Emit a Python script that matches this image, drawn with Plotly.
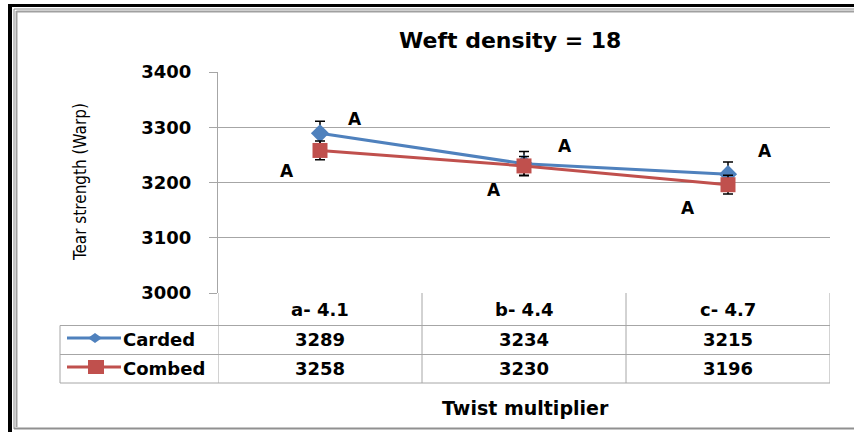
import plotly.graph_objects as go

# ---------------- data ----------------
categories = ["a- 4.1", "b- 4.4", "c- 4.7"]
series_names = ["Carded", "Combed"]
carded = [3289, 3234, 3215]
combed = [3258, 3230, 3196]
carded_err = [22, 22, 22]
combed_err = [17, 17, 17]
carded_letters = ["A", "A", "A"]
combed_letters = ["A", "A", "A"]
y_ticks = [3000, 3100, 3200, 3300, 3400]
title_text = "Weft density = 18"
y_title = "Tear strength (Warp)"
x_title = "Twist multiplier"

# ---------------- style / layout ----------------
W, H = 854, 432
L, R, T, B = 218, 830, 72, 293
BLUE = "#4F81BD"
RED = "#C0504D"
GRID = "#a6a6a6"
FONT = "DejaVu Sans"


def px(x):
    return (x - L) / (R - L)


def py(y):
    return (B - y) / (B - T)


idx = list(range(len(categories)))

fig = go.Figure()
fig.add_trace(go.Scatter(
    x=idx, y=carded, mode="lines+markers", name=series_names[0],
    line=dict(color=BLUE, width=3),
    marker=dict(symbol="diamond", size=14, color=BLUE),
    error_y=dict(type="data", array=carded_err, color="black", thickness=1.5, width=5),
    showlegend=False, cliponaxis=False,
))
fig.add_trace(go.Scatter(
    x=idx, y=combed, mode="lines+markers", name=series_names[1],
    line=dict(color=RED, width=3),
    marker=dict(symbol="square", size=15, color=RED),
    error_y=dict(type="data", array=combed_err, color="black", thickness=1.5, width=5),
    showlegend=False, cliponaxis=False,
))

shapes = []
annotations = []

# table lines
row_lines = [325.5, 354.5, 383]
for yy in row_lines:
    shapes.append(dict(type="line", xref="paper", yref="paper",
                       x0=px(60), x1=px(830), y0=py(yy), y1=py(yy),
                       line=dict(color=GRID, width=1)))
for xb in [-0.5, 0.5, 1.5, 2.5]:
    shapes.append(dict(type="line", xref="x", yref="paper",
                       x0=xb, x1=xb, y0=py(293), y1=py(383),
                       line=dict(color=GRID, width=1)))
shapes.append(dict(type="line", xref="paper", yref="paper",
                   x0=px(60), x1=px(60), y0=py(325.5), y1=py(383),
                   line=dict(color=GRID, width=1)))

CELL_FONT = dict(family=FONT, size=18, color="black", weight="bold")

# table text
header_y, row_y = 309, [339, 368]
for i, c in enumerate(categories):
    annotations.append(dict(x=i, y=py(header_y), xref="x", yref="paper", text=c,
                            xanchor="center", yanchor="middle",
                            showarrow=False, font=CELL_FONT))
for r, vals in enumerate([carded, combed]):
    for i, v in enumerate(vals):
        annotations.append(dict(x=i, y=py(row_y[r]), xref="x", yref="paper", text=str(v),
                                xanchor="center", yanchor="middle",
                                showarrow=False, font=CELL_FONT))
    annotations.append(dict(x=px(121), y=py(row_y[r]), xref="paper", yref="paper",
                            text=series_names[r], xanchor="left", yanchor="middle",
                            showarrow=False, font=CELL_FONT))

# legend keys in the table
key_y = [338, 367]
for r, col in enumerate([BLUE, RED]):
    shapes.append(dict(type="line", xref="paper", yref="paper",
                       x0=px(67), x1=px(121), y0=py(key_y[r]), y1=py(key_y[r]),
                       line=dict(color=col, width=3)))
shapes.append(dict(type="path", xref="paper", yref="paper", xsizemode="pixel", ysizemode="pixel",
                   xanchor=px(95), yanchor=py(key_y[0]),
                   path="M -7,0 L 0,5 L 7,0 L 0,-5 Z", fillcolor=BLUE, line=dict(width=0)))
shapes.append(dict(type="path", xref="paper", yref="paper", xsizemode="pixel", ysizemode="pixel",
                   xanchor=px(96), yanchor=py(key_y[1]),
                   path="M -8,-7 L 8,-7 L 8,7 L -8,7 Z", fillcolor=RED, line=dict(width=0)))

# significance letters
carded_off = [(35, 14), (41, 18), (37, 23)]
combed_off = [(-33, -21), (-30, -24), (-40, -23)]
LET_FONT = dict(family=FONT, size=17, color="black", weight="bold")
for i in idx:
    annotations.append(dict(x=i, y=carded[i], xref="x", yref="y", text=carded_letters[i],
                            xshift=carded_off[i][0], yshift=carded_off[i][1], showarrow=False,
                            xanchor="center", yanchor="middle", font=LET_FONT))
    annotations.append(dict(x=i, y=combed[i], xref="x", yref="y", text=combed_letters[i],
                            xshift=combed_off[i][0], yshift=combed_off[i][1], showarrow=False,
                            xanchor="center", yanchor="middle", font=LET_FONT))

# titles
annotations.append(dict(x=px(510), y=py(40), xref="paper", yref="paper", text=title_text,
                        xanchor="center", yanchor="middle", showarrow=False,
                        font=dict(family=FONT, size=22, color="black", weight="bold")))
annotations.append(dict(x=px(525), y=py(408), xref="paper", yref="paper", text=x_title,
                        xanchor="center", yanchor="middle", showarrow=False,
                        font=dict(family=FONT, size=19, color="black", weight="bold")))
annotations.append(dict(x=px(80), y=py(182), xref="paper", yref="paper", text=y_title,
                        textangle=-90, xanchor="center", yanchor="middle", showarrow=False,
                        font=dict(family="DejaVu Sans Condensed", size=17, color="black")))

# outer frame
frame = [
    (10, 4, 10, 440, "black", 4),
    (8, 5.5, 870, 5.5, "black", 3),
    (14, 9, 14, 429, "#888888", 1),
    (16.5, 11, 16.5, 427, "#a0a0a0", 2),
    (14, 9, 870, 9, "#888888", 1),
    (16.5, 11.5, 870, 11.5, "#a0a0a0", 2),
    (14, 428.5, 870, 428.5, "#909090", 2),
]
for x0, y0, x1, y1, c, w in frame:
    shapes.append(dict(type="line", xref="paper", yref="paper",
                       x0=px(x0), x1=px(x1), y0=py(y0), y1=py(y1),
                       line=dict(color=c, width=w)))

fig.update_layout(
    width=W, height=H,
    margin=dict(l=L, r=W - R, t=T, b=H - B),
    paper_bgcolor="white", plot_bgcolor="white",
    showlegend=False,
    xaxis=dict(range=[-0.5, 2.5], visible=False, fixedrange=True),
    yaxis=dict(range=[3000, 3400], tickvals=y_ticks, showgrid=True, gridcolor=GRID, gridwidth=1,
               showline=True, linecolor=GRID, linewidth=1, ticks="outside", ticklen=8,
               tickcolor=GRID, zeroline=False, ticklabelstandoff=14,
               tickfont=dict(family=FONT, size=18, color="black", weight="bold")),
    shapes=shapes,
    annotations=annotations,
)

fig.write_html("out.html", config={"displayModeBar": False},
               post_script="document.body.style.margin='0px';")
